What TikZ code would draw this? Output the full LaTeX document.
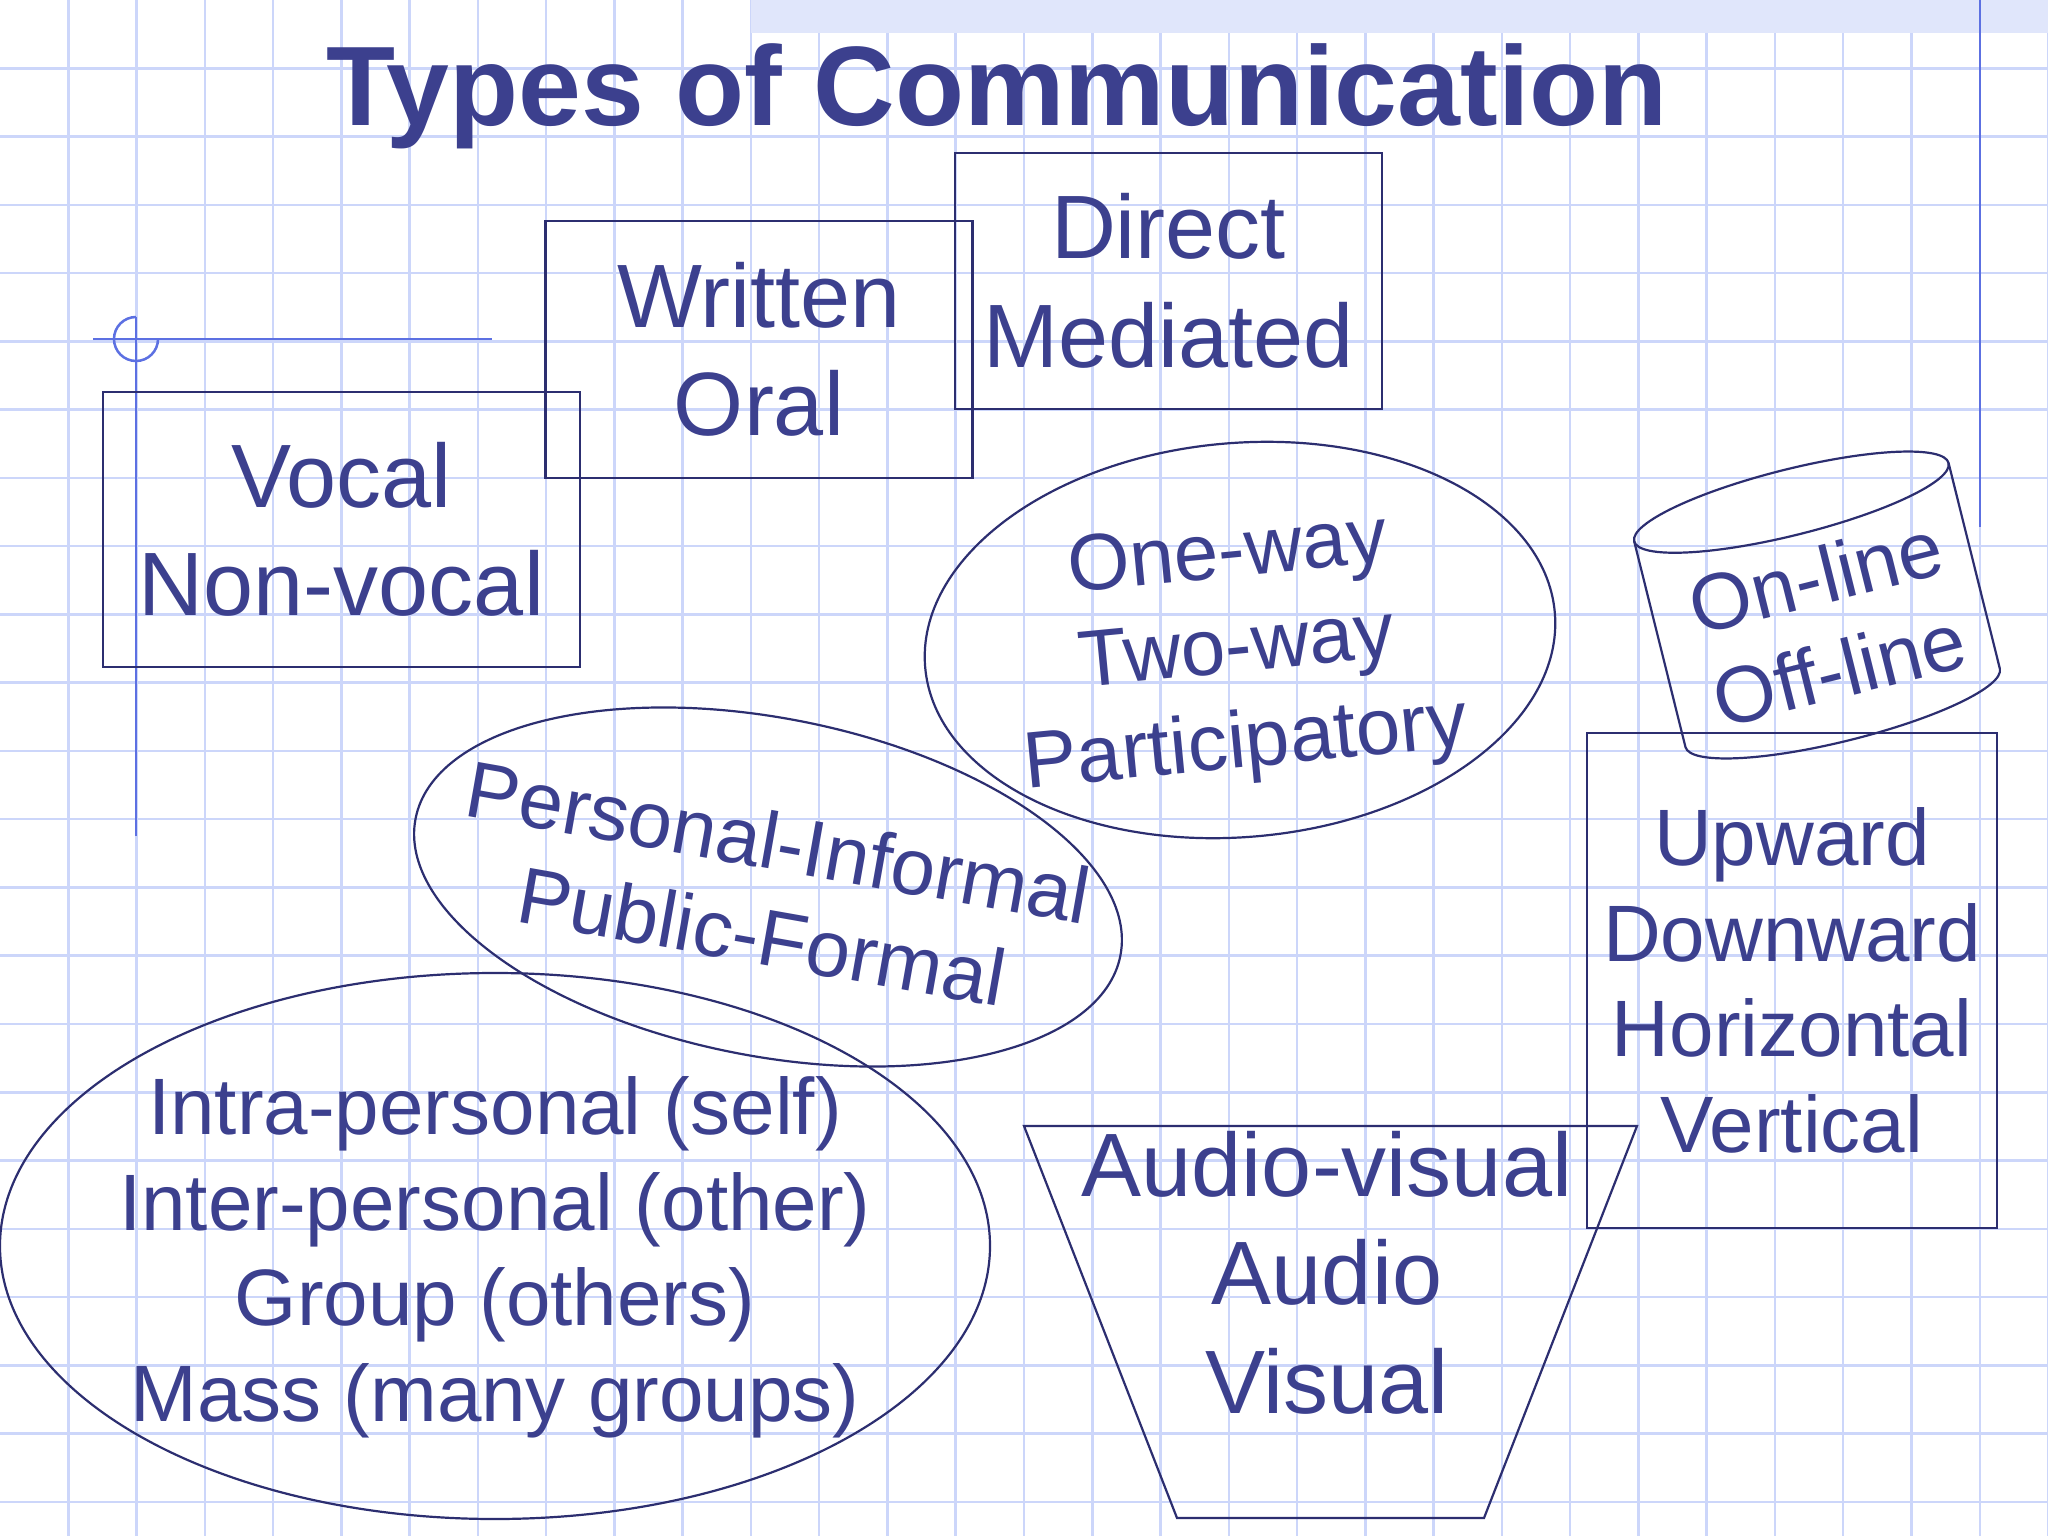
\documentclass[tikz,border=0pt]{standalone}
\usepackage{fontspec}
\setmainfont{Liberation Sans}
\usetikzlibrary{shapes.geometric}
\definecolor{gridc}{RGB}{204,214,250}
\definecolor{txtc}{RGB}{60,64,142}
\definecolor{linec}{RGB}{44,46,112}
\definecolor{guidec}{RGB}{92,112,226}
\definecolor{patc}{RGB}{224,230,251}
\newcommand\cbigfont{\fontsize{90}{108.5}\selectfont}
\newcommand\cmidfont{\fontsize{80}{95.5}\selectfont}
\newcommand\ctitlefont{\fontsize{113}{130}\selectfont\bfseries}
\tikzset{
  shapeline/.style={draw=linec, line width=2.2pt},
  guideline/.style={draw=guidec, line width=2.5pt},
  gridline/.style={draw=gridc, line width=2.5pt},
  txt/.style={text=txtc, inner sep=0pt, align=center, font=\cbigfont},
  boxnode/.style={shapeline, rectangle, inner sep=0pt, align=center, text=txtc, font=\cbigfont},
  ellnode/.style={shapeline, ellipse, inner sep=0pt}
}
\begin{document}
\begin{tikzpicture}[x=1pt,y=-1pt]
\useasboundingbox (0,0) rectangle (2048,1536);
\fill[white] (0,0) rectangle (2048,1536);
% grid
\foreach \i in {1,...,30} \draw[gridline] (\i*68.2667,0) -- (\i*68.2667,1536);
\foreach \j in {1,...,22} \draw[gridline] (0,\j*68.2667) -- (2048,\j*68.2667);
\fill[patc] (751,0) rectangle (2048,33);
% guides
\draw[guideline] (1980,0) -- (1980,527);
\draw[guideline] (93,339) -- (492,339);
\draw[guideline] (136,317) -- (136,836);
\draw[guideline] (136,317) arc[start angle=270, end angle=0, radius=22];
% title
\node[txt, font=\ctitlefont, anchor=base] (title) at (997,126) {Types of Communication};
% boxes
\node[boxnode, minimum width=427pt, minimum height=257pt] (written) at (759,349.5) {Written\\Oral};
\node[boxnode, minimum width=427pt, minimum height=256pt] (direct) at (1168.5,281) {Direct\\Mediated};
\node[boxnode, minimum width=477pt, minimum height=275pt] (vocal) at (341.5,529.5) {Vocal\\Non-vocal};
\node[boxnode, font=\cmidfont, minimum width=410pt, minimum height=495pt] (flow) at (1792,980.5) {Upward\\Downward\\Horizontal\\Vertical};
% ellipses
\node[ellnode, minimum width=632pt, minimum height=394pt, rotate=5] (wayell) at (1240,640) {};
\node[txt, font=\cmidfont, anchor=base, rotate=5.5] (waytxt) at (1248,767) {One-way\\Two-way\\Participatory};
\node[ellnode, minimum width=718pt, minimum height=338pt, rotate=-11] (persell) at (768,887) {};
\node[txt, font=\cmidfont, anchor=base, rotate=-10] (perstxt) at (757,964) {Personal-Informal\\Public-Formal};
\node[ellnode, minimum width=990pt, minimum height=546pt] (scopeell) at (495,1246) {};
\node[txt, font=\cmidfont, anchor=base] (scopetxt) at (495,1421) {Intra-personal (self)\\Inter-personal (other)\\Group (others)\\Mass (many groups)};
% trapezoid
\coordinate (tz1) at (1024,1126);
\coordinate (tz2) at (1637,1126);
\coordinate (tz3) at (1484,1518);
\coordinate (tz4) at (1177,1518);
\draw[shapeline] (tz1) -- (tz2) -- (tz3) -- (tz4) -- cycle;
\node[txt, anchor=base] (avtxt) at (1327,1413) {Audio-visual\\Audio\\Visual};
% cylinder
\begin{scope}[shift={(1817,605)}, rotate=14]
\draw[shapeline] (0,-106) ellipse [x radius=162, y radius=33];
\draw[shapeline] (-162,-106) -- (-162,106) arc[start angle=180, end angle=0, x radius=162, y radius=33] -- (162,-106);
\end{scope}
\node[txt, font=\cmidfont, anchor=base, rotate=14] (linetxt) at (1846,697) {On-line\\Off-line};
\end{tikzpicture}
\end{document}
